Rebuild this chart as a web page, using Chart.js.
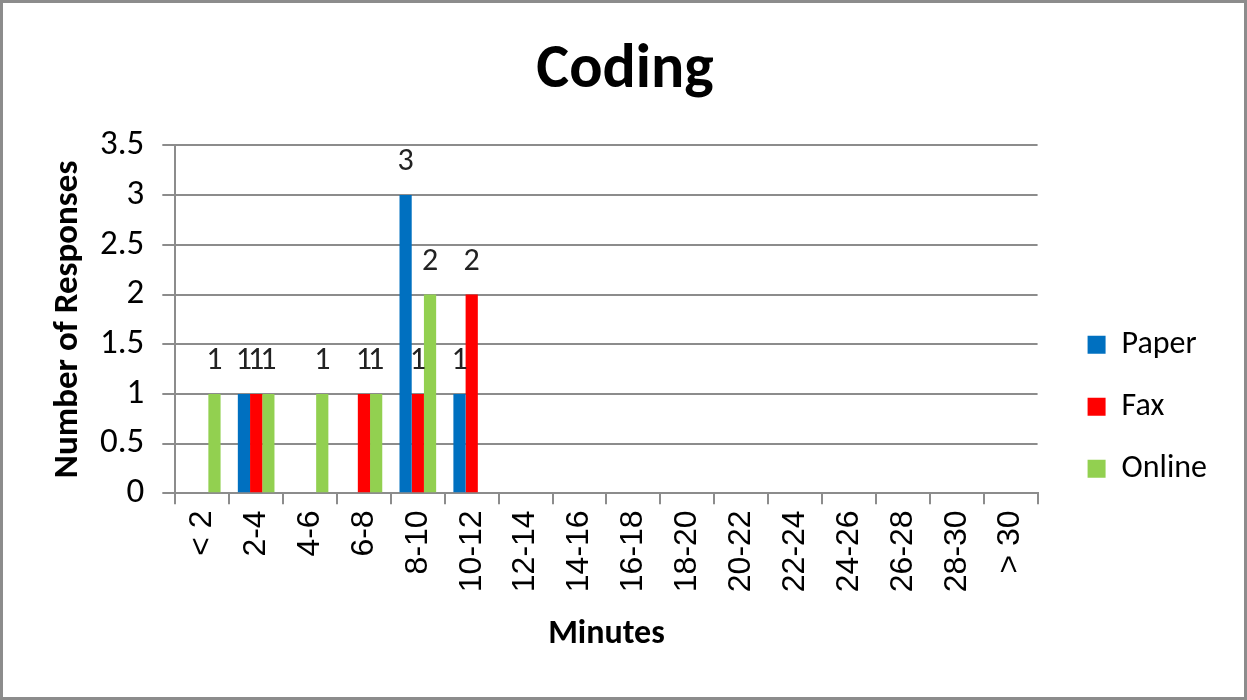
<!DOCTYPE html>
<html>
<head>
<meta charset="utf-8">
<script src="https://cdn.jsdelivr.net/npm/chart.js@4/dist/chart.umd.min.js"></script>
<style>
  html, body { margin: 0; padding: 0; background: #fff; }
  #frame {
    width: 1247px; height: 700px; box-sizing: border-box;
    border: 3px solid #8c8c8c; background: #fff; position: relative;
  }
  canvas { display: block; }
</style>
</head>
<body>
<div id="frame"><canvas id="chart" width="1241" height="694"></canvas></div>
<script>
// Time spent on coding, in two-minute buckets
const categories = ['< 2', '2-4', '4-6', '6-8', '8-10', '10-12', '12-14', '14-16',
  '16-18', '18-20', '20-22', '22-24', '24-26', '26-28', '28-30', '> 30'];
const paper  = [0, 1, 0, 0, 3, 1, 0, 0, 0, 0, 0, 0, 0, 0, 0, 0];
const fax    = [0, 1, 0, 1, 1, 2, 0, 0, 0, 0, 0, 0, 0, 0, 0, 0];
const online = [1, 1, 1, 1, 2, 0, 0, 0, 0, 0, 0, 0, 0, 0, 0, 0];
const yTicks = [0, 0.5, 1, 1.5, 2, 2.5, 3, 3.5];

const sansFont = 'Carlito, Lato, "Open Sans", sans-serif';
const axisGray = '#8c8c8c';

// Writes each non-zero value above its bar
const valueLabels = {
  id: 'valueLabels',
  afterDatasetsDraw(chart) {
    const ctx = chart.ctx;
    ctx.save();
    ctx.font = '32px ' + sansFont;
    ctx.fillStyle = '#222';
    ctx.textAlign = 'center';
    ctx.textBaseline = 'alphabetic';
    chart.data.datasets.forEach((ds, i) => {
      const meta = chart.getDatasetMeta(i);
      meta.data.forEach((bar, j) => {
        const v = ds.data[j];
        if (!v) return;
        ctx.fillText(String(v), bar.x, bar.y - 25);
      });
    });
    ctx.restore();
  }
};

new Chart(document.getElementById('chart'), {
  type: 'bar',
  data: {
    labels: categories,
    datasets: [
      { label: 'Paper',  data: paper,  backgroundColor: '#0070C0' },
      { label: 'Fax',    data: fax,    backgroundColor: '#FF0000' },
      { label: 'Online', data: online, backgroundColor: '#92D050' }
    ]
  },
  options: {
    responsive: false,
    animation: false,
    categoryPercentage: 0.68,
    barPercentage: 1.0,
    layout: { padding: { left: 30, right: 27, top: 0, bottom: 42 } },
    plugins: {
      title: {
        display: true,
        text: 'Coding',
        color: '#000',
        font: { family: sansFont, size: 62, weight: 'bold' },
        padding: { top: 31, bottom: 37 }
      },
      legend: {
        position: 'right',
        title: { display: true, text: '', padding: { top: 70, bottom: 71 } },
        labels: {
          color: '#000',
          font: { family: sansFont, size: 32 },
          boxWidth: 18,
          boxHeight: 18,
          padding: 30
        }
      },
      tooltip: { enabled: false }
    },
    scales: {
      x: {
        offset: true,
        grid: {
          display: true,
          offset: true,
          drawOnChartArea: false,
          drawTicks: true,
          tickLength: 11,
          color: axisGray,
          lineWidth: 2
        },
        border: { color: axisGray, width: 2 },
        ticks: {
          color: '#000',
          minRotation: 90,
          maxRotation: 90,
          autoSkip: false,
          padding: 6,
          font: { family: '"Liberation Sans", Arial, sans-serif', size: 32 }
        },
        title: {
          display: true,
          text: 'Minutes',
          color: '#000',
          font: { family: sansFont, size: 34, weight: 'bold' },
          padding: { top: 16, bottom: 0 }
        }
      },
      y: {
        min: 0,
        max: 3.5,
        afterBuildTicks(scale) { scale.ticks = yTicks.map(v => ({ value: v })); },
        grid: {
          color: axisGray,
          lineWidth: 2,
          tickLength: 13
        },
        border: { color: axisGray, width: 2 },
        ticks: {
          color: '#000',
          padding: 18,
          font: { family: sansFont, size: 35 },
          callback: v => String(v)
        },
        title: {
          display: true,
          text: 'Number of Responses',
          color: '#000',
          font: { family: sansFont, size: 35, weight: 'bold' },
          padding: { top: 14, bottom: -7 }
        }
      },
      // empty strip between the plot and the legend
      gap: {
        type: 'linear',
        position: 'right',
        display: true,
        grid: { display: false, drawTicks: false },
        border: { display: false },
        ticks: { display: false },
        afterFit(scale) { scale.width = 20; }
      }
    }
  },
  plugins: [valueLabels]
});
</script>
</body>
</html>
